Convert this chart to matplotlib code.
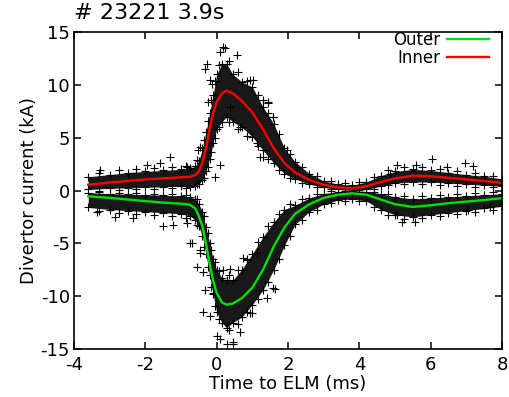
import numpy as np
import matplotlib
matplotlib.use("Agg")
import matplotlib.pyplot as plt

plt.rcParams["axes.unicode_minus"] = False

# time grid (ms) and the two fitted curves (kA)
t = [-3.6, -3.0, -2.5, -2.0, -1.5, -1.0, -0.75, -0.6, -0.5, -0.4, -0.3, -0.2, -0.1, 0.0,
     0.15, 0.28, 0.45, 0.7, 1.0, 1.3, 1.6, 1.9, 2.2, 2.6, 3.0, 3.4, 3.8, 4.2, 4.6, 5.0,
     5.5, 6.0, 6.5, 7.0, 7.5, 8.0]
inner = [0.55, 0.75, 0.9, 1.05, 1.15, 1.25, 1.3, 1.45, 1.8, 2.6, 4.0, 5.8, 7.3, 8.4,
         9.2, 9.45, 9.2, 8.5, 7.4, 5.8, 4.0, 2.6, 1.7, 1.0, 0.55, 0.3, 0.2, 0.4, 0.8, 1.15,
         1.4, 1.35, 1.2, 1.05, 0.9, 0.72]
outer = [-0.55, -0.7, -0.85, -1.0, -1.15, -1.25, -1.35, -1.7, -2.4, -3.4, -5.0, -6.9, -8.5, -9.7,
         -10.6, -10.8, -10.7, -10.2, -9.2, -7.5, -5.3, -3.5, -2.2, -1.3, -0.7, -0.4, -0.27, -0.4, -0.85, -1.3,
         -1.55, -1.4, -1.2, -1.05, -0.9, -0.72]

# dense part of the measured points (lower / upper edge on the same grid)
inner_lo = [0.1, 0.2, 0.25, 0.3, 0.35, 0.4, 0.35, 0.4, 0.6, 1.0, 1.8, 3.0, 4.5, 5.8,
            6.5, 7.0, 6.5, 6.0, 5.1, 3.8, 2.6, 1.6, 1.1, 0.6, 0.3, 0.1, 0.0, 0.1, 0.4, 0.7,
            0.8, 0.8, 0.7, 0.6, 0.5, 0.4]
inner_hi = [1.3, 1.5, 1.7, 1.8, 1.9, 2.0, 2.1, 2.3, 2.8, 4.0, 5.5, 7.3, 9.0, 11.0,
            12.0, 12.0, 11.0, 10.3, 9.8, 7.9, 6.3, 4.0, 2.7, 1.6, 0.9, 0.6, 0.5, 0.8, 1.4, 1.8,
            2.0, 1.9, 1.7, 1.5, 1.35, 1.1]
outer_lo = [-1.6, -1.8, -1.9, -2.0, -2.1, -2.2, -2.4, -2.8, -3.4, -4.3, -6.0, -8.0, -9.8, -11.5,
            -12.5, -13.0, -12.5, -12.0, -10.8, -9.4, -7.5, -5.2, -3.2, -2.0, -1.3, -0.9, -0.8, -1.0, -1.8, -2.3,
            -2.5, -2.3, -2.1, -1.9, -1.7, -1.5]
outer_hi = [-0.2, -0.3, -0.35, -0.4, -0.45, -0.5, -0.6, -0.8, -1.3, -2.0, -3.5, -5.0, -6.5, -7.5,
            -8.3, -8.5, -8.5, -7.5, -6.0, -4.4, -3.0, -1.8, -1.4, -0.7, -0.3, -0.1, 0.0, -0.1, -0.3, -0.6,
            -0.8, -0.7, -0.6, -0.5, -0.4, -0.3]

# points just outside the dense bands, between grid times
tm = [-3.3, -2.75, -2.25, -1.75, -1.25, -0.85, -0.55, -0.35, -0.25, -0.15, -0.05, 0.07,
      0.35, 0.6, 0.85, 1.15, 1.45, 1.75, 2.05, 2.4, 2.8, 3.2, 3.6, 4.0, 4.4, 4.8,
      5.25, 5.75, 6.25, 6.75, 7.25, 7.75]
inner_top = [1.7, 1.9, 2.0, 2.1, 2.2, 2.3, 2.9, 4.8, 6.6, 8.6, 10.4, 11.9,
             12.3, 11.2, 10.4, 9.0, 7.3, 5.3, 3.5, 2.2, 1.4, 0.9, 0.7, 0.8, 1.3, 1.9,
             2.2, 2.2, 2.0, 1.8, 1.7, 1.4]
inner_bot = [0.0, 0.05, 0.1, 0.15, 0.2, 0.2, 0.6, 1.2, 2.2, 3.6, 5.0, 6.0,
             6.5, 5.8, 5.2, 4.2, 3.0, 1.9, 1.2, 0.7, 0.35, 0.1, -0.05, -0.1, 0.15, 0.5,
             0.6, 0.6, 0.55, 0.45, 0.35, 0.3]
outer_top = [-0.1, -0.2, -0.25, -0.3, -0.35, -0.4, -0.8, -2.4, -4.0, -5.6, -6.8, -7.6,
             -8.0, -7.5, -6.5, -4.9, -3.4, -2.2, -1.3, -0.8, -0.35, -0.05, 0.1, 0.05, -0.1, -0.3,
             -0.5, -0.5, -0.45, -0.35, -0.25, -0.15]
outer_bot = [-1.9, -2.1, -2.2, -2.3, -2.4, -2.6, -3.3, -5.3, -7.2, -9.1, -10.9, -12.2,
             -13.2, -12.6, -11.5, -10.3, -8.7, -6.5, -4.3, -2.8, -1.8, -1.2, -1.0, -1.0, -1.6, -2.3,
             -2.7, -2.6, -2.4, -2.2, -2.0, -1.8]

# sparse points further out
spread_x = [0.19, 0.09, 0.56, -0.28, -0.33, 0.93, -0.14, -0.23, 1.45, 1.59, 0.09, -0.05, -0.47,
            -0.52, 0.65, 0.37, 1.21, 1.96, 0.23, -0.19, 1.03, 1.31, 1.45, 1.58, 1.12, 1.31, 2.24,
            6.03, 6.96, 7.19, 5.05, 5.6, 6.45, 4.86, -1.31, -1.59, -1.96, -3.27, -0.84,
            -0.7, -0.47, -0.47, -0.38, -0.33, -0.09, -0.19, 0.0, 0.09, 0.28, 0.47, 0.37, 0.84,
            1.12, 0.19, -1.22, -1.5, -2.34, -2.85, -3.36, -0.84, 0.75, -0.38, -0.56, -0.75,
            1.59, 1.4, 0.93, 0.65, 0.47, 1.64, 0.98, 5.19, 5.56, 7.06, 7.66, 5.05]
spread_y = [13.6, 13.1, 12.8, 12.0, 11.5, 10.5, 10.1, 8.4, 8.4, 7.0, 2.4, 1.3, 4.1,
            3.8, 6.0, 7.9, 3.2, 3.8, 13.5, 10.5, 10.5, 8.6, 8.3, 7.0, 4.5, 3.2, 2.25,
            2.95, 2.57, 2.3, 2.4, 2.4, 2.25, 1.6, 3.2, 2.6, 2.4, 1.9, 2.25,
            -5.0, -5.6, -5.9, -7.7, -9.4, -9.7, -11.9, -13.8, -14.1, -14.5, -14.5, -7.4, -6.6,
            -5.9, -7.5, -3.3, -3.4, -2.6, -2.5, -2.0, -3.1, -6.4, -11.5, -7.2, -5.0,
            -9.25, -10.2, -11.6, -13.4, -14.3, -9.3, -11.6, -2.95, -2.95, -1.85, -1.53, -2.3]

fig = plt.figure(figsize=(5.09, 3.97), dpi=100)
ax = fig.add_axes([0.1454, 0.1209, 0.8408, 0.7985])

pt = dict(ls="none", marker="+", color="black", ms=5.5, mew=0.8)
ax.fill_between(t, inner_lo, inner_hi, color="black", lw=0, alpha=0.9)
ax.fill_between(t, outer_lo, outer_hi, color="black", lw=0, alpha=0.9)
for edge in (inner_lo, inner_hi, outer_lo, outer_hi):
    ax.plot(t, edge, **pt)
for edge in (inner_top, inner_bot, outer_top, outer_bot):
    ax.plot(tm, edge, **pt)
ax.plot(spread_x, spread_y, **pt)

ax.plot(t, outer, color="#00e000", lw=1.7, label="Outer")
ax.plot(t, inner, color="#ff0000", lw=1.7, label="Inner")

ax.set_xlim(-4, 8)
ax.set_ylim(-15, 15)
ax.set_xticks([-4, -2, 0, 2, 4, 6, 8])
ax.set_yticks([-15, -10, -5, 0, 5, 10, 15])
ax.tick_params(direction="in", length=5, width=1.1, labelsize=13, top=True, right=True)
ax.tick_params(axis="x", pad=5)
ax.tick_params(axis="y", pad=3)
for s in ax.spines.values():
    s.set_linewidth(1.2)

ax.set_xlabel("Time to ELM (ms)", fontsize=13, labelpad=1)
ax.set_ylabel("Divertor current (kA)", fontsize=13, labelpad=2)
fig.text(0.1454, 0.953, "# 23221 3.9s", fontsize=16, ha="left", va="baseline")

ax.legend(loc="upper right", frameon=False, markerfirst=False, fontsize=12,
          handlelength=2.5, handletextpad=0.4, labelspacing=0.0,
          borderaxespad=0.0, bbox_to_anchor=(0.985, 1.025))

fig.savefig("out.png", dpi=100)
